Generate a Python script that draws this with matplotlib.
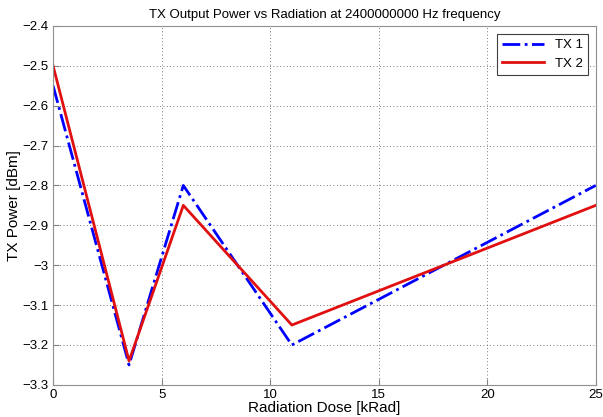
import numpy as np
import matplotlib
matplotlib.use("Agg")
import matplotlib.pyplot as plt

plt.rcParams['font.family'] = ['Liberation Sans', 'DejaVu Sans']

# datos
dosis = [0, 3.5, 6, 11, 25]
tx1 = [-2.55, -3.25, -2.8, -3.2, -2.8]
tx2 = [-2.5, -3.24, -2.85, -3.15, -2.85]
ytick_labels = ['\u22123.3', '\u22123.2', '\u22123.1', '\u22123', '\u22122.9',
                '\u22122.8', '\u22122.7', '\u22122.6', '\u22122.5', '\u22122.4']

fig = plt.figure(figsize=(6.03, 4.17), dpi=100)
ax = fig.add_axes([0.088, 0.077, 0.9, 0.861])

ax.plot(dosis, tx1, color='#0000ff', linestyle='-.', linewidth=2, label='TX 1')
ax.plot(dosis, tx2, color='#e01010', linestyle='-', linewidth=2, label='TX 2')

ax.set_xlim(0, 25)
ax.set_ylim(-3.3, -2.4)
ax.set_xticks([0, 5, 10, 15, 20, 25])
ax.set_yticks(np.round(np.arange(-3.3, -2.35, 0.1), 1))
ax.set_yticklabels(ytick_labels)
ax.grid(True, linestyle=(0, (1, 3)), color='#505050', linewidth=0.6)
ax.tick_params(direction='in', labelsize=9.5, color='#808080', length=4, pad=3)
for s in ax.spines.values():
    s.set_color('#909090')

ax.set_title("TX Output Power vs Radiation at 2400000000 Hz frequency", fontsize=9.5, pad=6)
ax.set_xlabel("Radiation Dose [kRad]", fontsize=11, labelpad=0)
ax.set_ylabel("TX Power [dBm]", fontsize=11, labelpad=1)

leg = ax.legend(loc='upper right', fontsize=9.5, fancybox=False, framealpha=1,
                edgecolor='#404040', handlelength=3.2, borderaxespad=0.6)
leg.get_frame().set_linewidth(0.8)

fig.savefig("out.png", dpi=100)
